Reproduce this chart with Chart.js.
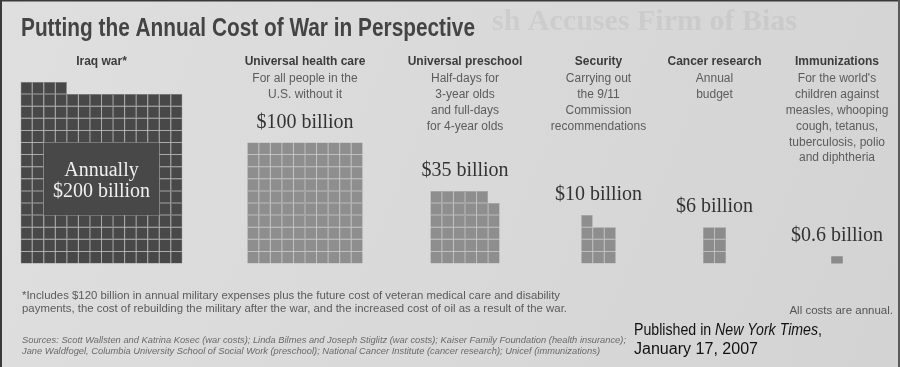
<!DOCTYPE html>
<html>
<head>
<meta charset="utf-8">
<script src="https://cdn.jsdelivr.net/npm/chart.js@4/dist/chart.umd.min.js"></script>
<style>
  html, body { margin: 0; padding: 0; background: #d9d9d9; }
  canvas { display: block; }
</style>
</head>
<body>
<canvas id="cost-chart" width="900" height="367"></canvas>
<script>
// Annual cost in billions of dollars (one grid cell = $1 billion)
const categories = ["Iraq war*", "Universal health care", "Universal preschool", "Security", "Cancer research", "Immunizations"];
const costs = [200, 100, 35, 10, 6, 0.6];
const costLabels = ["$200 billion", "$100 billion", "$35 billion", "$10 billion", "$6 billion", "$0.6 billion"];
const descriptions = [
    [],
    ["For all people in the", "U.S. without it"],
    ["Half-days for", "3-year olds", "and full-days", "for 4-year olds"],
    ["Carrying out", "the 9/11", "Commission", "recommendations"],
    ["Annual", "budget"],
    ["For the world's", "children against", "measles, whooping", "cough, tetanus,", "tuberculosis, polio", "and diphtheria"]
];

// layout (pixels)
const W = 900, H = 367;
const CELL_W = 11.55, CELL_H = 12.1;
const BASE_Y = 263.5;
const columnCentres = [101.5, 305, 465, 598.5, 714.5, 837];
const fills = ['#484848', '#8e8e8e', '#8e8e8e', '#8e8e8e', '#8c8c8c', '#8a8a8a'];
const lines = ['#6c6c6c', '#a0a0a0', '#a0a0a0', '#a0a0a0', '#a0a0a0', '#8a8a8a'];

// lay each amount out as a grid of $1 billion cells, filled from the bottom
function cellsFor(value, centre) {
    const cols = Math.max(1, Math.round(Math.sqrt(value)));
    const left = centre / CELL_W - cols / 2;
    const rows = Math.floor(value / cols);
    const rest = value - rows * cols;
    const whole = Math.floor(rest + 1e-9);
    const part = rest - whole;
    const cells = [];
    for (let r = 0; r < rows; r++)
        for (let c = 0; c < cols; c++)
            cells.push({ x: left + c + 0.5, y: [r, r + 1] });
    for (let c = 0; c < whole; c++)
        cells.push({ x: left + c + 0.5, y: [rows, rows + 1] });
    if (part > 0.01)
        cells.push({ x: left + whole + 0.5, y: [rows, rows + part] });
    const top = whole > 0 ? rows + 1 : (part > 0.01 ? rows + part : rows);
    return { cells, cols, left, top };
}

const blocks = costs.map((v, i) => cellsFor(v, columnCentres[i]));

const datasets = blocks.map((b, i) => ({
    label: categories[i],
    data: b.cells,
    backgroundColor: fills[i],
    borderColor: lines[i],
    borderWidth: i === 5 ? 0 : 0.5,
    borderSkipped: false,
    inflateAmount: 0,
    grouped: false,
    barPercentage: 1,
    categoryPercentage: 1
}));

// draws with a horizontal squeeze so a line fits the width it has in print
function fitText(ctx, text, x, y, width) {
    const natural = ctx.measureText(text).width;
    const s = width ? width / natural : 1;
    ctx.save();
    ctx.translate(x, y);
    ctx.scale(s, 1);
    ctx.fillText(text, 0, 0);
    ctx.restore();
}

const paperPlugin = {
    id: 'paper',
    beforeDraw(chart) {
        const ctx = chart.ctx;
        const g = ctx.createLinearGradient(0, 0, W, H);
        g.addColorStop(0, '#dfdfdf');
        g.addColorStop(0.5, '#d9d9d9');
        g.addColorStop(1, '#d3d3d3');
        ctx.save();
        ctx.fillStyle = g;
        ctx.fillRect(0, 0, W, H);
        // show-through of the neighbouring headline
        ctx.fillStyle = 'rgba(90,90,90,0.09)';
        ctx.font = 'bold 30px "Liberation Serif"';
        ctx.textBaseline = 'alphabetic';
        ctx.textAlign = 'left';
        ctx.fillText('sh Accuses Firm of Bias', 492, 30);
        // page edges
        ctx.fillStyle = '#3a3a3a';
        ctx.fillRect(0, 0, 2, H);
        ctx.fillRect(0, 0, W, 1.5);
        ctx.fillStyle = '#5a5a5a';
        ctx.fillRect(W - 2, 0, 2, H);
        ctx.restore();
    },
    afterDatasetsDraw(chart) {
        const ctx = chart.ctx;
        const xs = chart.scales.x, ys = chart.scales.y;
        ctx.save();

        // title
        ctx.fillStyle = '#444';
        ctx.textAlign = 'left';
        ctx.textBaseline = 'alphabetic';
        ctx.font = 'bold 25px "Liberation Sans"';
        fitText(ctx, 'Putting the Annual Cost of War in Perspective', 21, 36, 454);

        ctx.textBaseline = 'middle';
        ctx.textAlign = 'center';
        blocks.forEach((b, i) => {
            const cx = xs.getPixelForValue(b.left + b.cols / 2);
            ctx.fillStyle = '#3c3c3c';
            ctx.font = 'bold 12px "Liberation Sans"';
            ctx.fillText(categories[i], cx, 61.5);
            ctx.fillStyle = '#5c5c5c';
            ctx.font = '12px "Liberation Sans"';
            descriptions[i].forEach((line, k) => ctx.fillText(line, cx, 79 + k * 15.8));
            if (i > 0) {
                ctx.fillStyle = '#333';
                ctx.font = '20px "Liberation Serif"';
                ctx.fillText(costLabels[i], cx, ys.getPixelForValue(b.top) - 20);
            }
        });

        // plain panel inside the Iraq block carrying its label
        const iraq = blocks[0];
        const x0 = xs.getPixelForValue(iraq.left + 2), x1 = xs.getPixelForValue(iraq.left + 12);
        const y0 = ys.getPixelForValue(10), y1 = ys.getPixelForValue(4);
        ctx.fillStyle = fills[0];
        ctx.fillRect(x0, y0, x1 - x0, y1 - y0);
        const icx = xs.getPixelForValue(iraq.left + iraq.cols / 2);
        ctx.fillStyle = '#f0f0f0';
        ctx.font = '20px "Liberation Serif"';
        ctx.fillText('Annually', icx, ys.getPixelForValue(7.65));
        ctx.fillText(costLabels[0], icx, ys.getPixelForValue(5.9));

        // footnote and sources
        ctx.textAlign = 'left';
        ctx.fillStyle = '#5a5a5a';
        ctx.font = '10.5px "Liberation Sans"';
        fitText(ctx, '*Includes $120 billion in annual military expenses plus the future cost of veteran medical care and disability', 22, 296, 538);
        fitText(ctx, 'payments, the cost of rebuilding the military after the war, and the increased cost of oil as a result of the war.', 22, 309, 545);
        ctx.fillStyle = '#6a6a6a';
        ctx.font = 'italic 8.5px "Liberation Sans"';
        fitText(ctx, 'Sources: Scott Wallsten and Katrina Kosec (war costs); Linda Bilmes and Joseph Stiglitz (war costs); Kaiser Family Foundation (health insurance);', 22, 341, 604);
        fitText(ctx, 'Jane Waldfogel, Columbia University School of Social Work (preschool); National Cancer Institute (cancer research); Unicef (immunizations)', 22, 352, 578);

        ctx.textAlign = 'right';
        ctx.fillStyle = '#555';
        ctx.font = '11.5px "Liberation Sans"';
        ctx.fillText('All costs are annual.', 893, 311);

        // publication note
        ctx.textAlign = 'left';
        ctx.fillStyle = '#111';
        const parts = [['Published in ', '16px'], ['New York Times', 'italic 16px'], [',', '16px']];
        let total = 0;
        parts.forEach(p => { ctx.font = p[1] + ' "Liberation Sans Narrow", "Liberation Sans"'; total += ctx.measureText(p[0]).width; });
        const s = 188 / total;
        ctx.save();
        ctx.translate(634, 330.5);
        ctx.scale(s, 1);
        let px = 0;
        parts.forEach(p => { ctx.font = p[1] + ' "Liberation Sans Narrow", "Liberation Sans"'; ctx.fillText(p[0], px, 0); px += ctx.measureText(p[0]).width; });
        ctx.restore();
        ctx.font = '16px "Liberation Sans Narrow", "Liberation Sans"';
        fitText(ctx, 'January 17, 2007', 634, 349.5, 124);
        ctx.restore();
    }
};

const ctx = document.getElementById('cost-chart').getContext('2d');
new Chart(ctx, {
    type: 'bar',
    data: { datasets: datasets },
    options: {
        responsive: false,
        animation: false,
        devicePixelRatio: 1,
        layout: { padding: 0 },
        plugins: { legend: { display: false }, tooltip: { enabled: false } },
        scales: {
            x: { type: 'linear', display: false, offset: false, min: 0, max: W / CELL_W },
            y: { type: 'linear', display: false, min: -(H - BASE_Y) / CELL_H, max: BASE_Y / CELL_H }
        }
    },
    plugins: [paperPlugin]
});
</script>
</body>
</html>
